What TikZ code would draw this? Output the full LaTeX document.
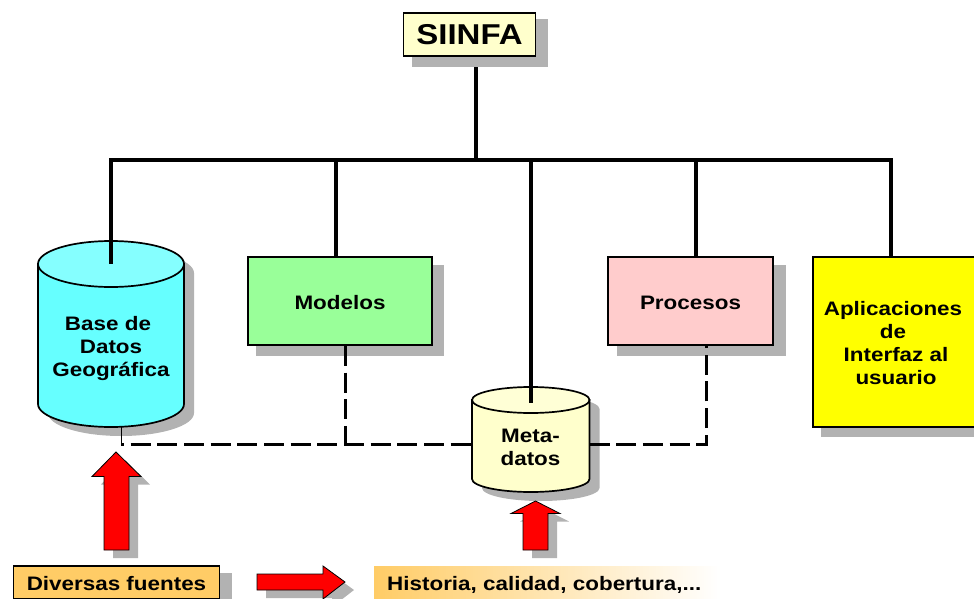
\documentclass[tikz,border=0pt]{standalone}
\usepackage{fontspec}
\setmainfont[FakeStretch=1.15]{Liberation Sans}
\usetikzlibrary{backgrounds}
\definecolor{shadc}{HTML}{B2B2B2}
\definecolor{cream}{HTML}{FFFFCC}
\definecolor{cyanbody}{HTML}{66FFFF}
\definecolor{cyantop}{HTML}{85FFFF}
\definecolor{creamtop}{HTML}{FFFFD6}
\definecolor{greenbox}{HTML}{99FF99}
\definecolor{pinkbox}{HTML}{FFCCCC}
\definecolor{orangebox}{HTML}{FFCC66}
\definecolor{yellowbox}{HTML}{FFFF00}
\definecolor{redarr}{HTML}{FF0000}
\tikzset{
  x=1pt,y=-1pt,
  shadowfill/.style={fill=shadc,draw=none},
  boxnode/.style={draw=black,line width=1.8pt,inner sep=0pt,align=center,font=\fontsize{19.5}{23}\selectfont\bfseries},
  bigline/.style={line width=4pt,black},
  dashline/.style={line width=2.7pt,black,dash pattern=on 20pt off 6.67pt},
  thinline/.style={line width=0.8pt,black},
  cylline/.style={line width=1.7pt,black},
  redarrow/.style={fill=redarr,draw=black,line width=0.8pt},
  cyltext/.style={align=center,font=\fontsize{19.5}{23}\selectfont\bfseries,inner sep=0pt},
}
\begin{document}
\begin{tikzpicture}
\useasboundingbox (0,0) rectangle (974,599);
% box shadows
\fill[shadowfill] (412,19) rectangle (548,67);
\fill[shadowfill] (256,265) rectangle (444,356);
\fill[shadowfill] (617,265) rectangle (786,356);
\fill[shadowfill] (821,265) rectangle (985,437);
\fill[shadowfill] (25,573) rectangle (232,610);
% boxes
\node[boxnode,fill=cream,minimum width=132pt,minimum height=43pt,font=\fontsize{28.7}{32}\selectfont\bfseries] (siinfa) at (469.5,34.5) {SIINFA};
\node[boxnode,fill=greenbox,minimum width=184pt,minimum height=88pt] (modelos) at (340,301) {\raisebox{0pt}[16pt][0pt]{Modelos}};
\node[boxnode,fill=pinkbox,minimum width=165pt,minimum height=88pt] (procesos) at (690.5,301) {\raisebox{0pt}[16pt][0pt]{Procesos}};
\node[boxnode,fill=yellowbox,minimum width=170pt,minimum height=170pt] (aplic) at (898,342) {};
\node[cyltext] (aplictext) at (893,343) {Aplicaciones\\de\\\hspace*{6pt}Interfaz al\\\hspace*{6pt}usuario};
% cylinder 1
\fill[shadowfill] (48,273) arc[x radius=73,y radius=23,start angle=180,end angle=360] -- (194,413) arc[x radius=73,y radius=23,start angle=0,end angle=180] -- cycle;
\draw[cylline,fill=cyanbody] (38,264) -- (38,404) arc[x radius=73,y radius=23,start angle=180,end angle=0] -- (184,264) -- cycle;
\draw[cylline,fill=cyantop] (111,264) ellipse[x radius=73,y radius=23];
\node[cyltext] (bdg) at (111,348) {Base de\hspace*{6pt}\\Datos\\Geográfica};
\coordinate (bdgb) at (121,427);
% cylinder 2
\fill[shadowfill] (482,409) arc[x radius=58.75,y radius=13,start angle=180,end angle=360] -- (599.5,488) arc[x radius=58.75,y radius=13,start angle=0,end angle=180] -- cycle;
\draw[cylline,fill=cream] (472,400) -- (472,479) arc[x radius=58.75,y radius=13,start angle=180,end angle=0] -- (589.5,400) -- cycle;
\draw[cylline,fill=creamtop] (530.75,400) ellipse[x radius=58.75,y radius=13];
\node[cyltext] (meta) at (530.5,447.5) {Meta-\\datos};
\coordinate (metal) at (472,444.5);
\coordinate (metar) at (589.5,444.5);
% tree
\coordinate (busl) at (109,159.5);
\coordinate (busr) at (893,159.5);
\coordinate (j0) at (476,159.5);
\coordinate (j1) at (111,159.5);
\coordinate (j2) at (336,159.5);
\coordinate (j3) at (531,159.5);
\coordinate (j4) at (696,159.5);
\coordinate (j5) at (891,159.5);
\coordinate (c1) at (111,264);
\coordinate (c2) at (531,403);
\coordinate (d0) at (121,444.5);
\coordinate (d1) at (345.5,444.5);
\coordinate (d2) at (706.5,444.5);
\begin{scope}[on background layer]
\draw[bigline] ([xshift=6.5pt]siinfa.south) -- (j0);
\end{scope}
\draw[bigline] (busl) -- (busr);
\draw[bigline] (j1) -- (c1);
\draw[bigline] (j2) -- (j2 |- modelos.north);
\draw[bigline] (j3) -- (c2);
\draw[bigline] (j4) -- (j4 |- procesos.north);
\draw[bigline] (j5) -- (j5 |- aplic.north);
% dashed links
\draw[thinline] (bdgb) -- (d0);
\draw[dashline,dash phase=17pt] (d0) -- (metal);
\draw[dashline] (d1 |- modelos.south) -- (d1);
\draw[dashline] (metar) -- (d2) -- (d2 |- procesos.south);
% red arrows
\fill[shadowfill,xshift=9pt,yshift=-8pt] (116,452) -- (141,476.5) -- (129,476.5) -- (129,550) -- (104,550) -- (104,476.5) -- (92,476.5) -- cycle;
\draw[redarrow] (116,452) -- (141,476.5) -- (129,476.5) -- (129,550) -- (104,550) -- (104,476.5) -- (92,476.5) -- cycle;
\fill[shadowfill,xshift=9pt,yshift=-8pt] (535.5,501) -- (560,513.5) -- (548,513.5) -- (548,550) -- (523,550) -- (523,513.5) -- (511,513.5) -- cycle;
\draw[redarrow] (535.5,501) -- (560,513.5) -- (548,513.5) -- (548,550) -- (523,550) -- (523,513.5) -- (511,513.5) -- cycle;
\fill[shadowfill,xshift=9pt,yshift=-8pt] (345,582) -- (323,566) -- (323,574) -- (257,574) -- (257,590) -- (323,590) -- (323,599) -- cycle;
\draw[redarrow] (345,582) -- (323,566) -- (323,574) -- (257,574) -- (257,590) -- (323,590) -- (323,599) -- cycle;
% bottom labels
\node[boxnode,fill=orangebox,minimum width=206pt,minimum height=33pt,line width=1.2pt] (div) at (116.5,582.5) {\raisebox{0pt}[16pt][0pt]{Diversas fuentes}};
\node[minimum width=346pt,minimum height=33pt,inner sep=0pt,left color=orangebox,right color=white,anchor=west] (histbg) at (374,582.5) {};
\node[anchor=west,inner sep=0pt,font=\fontsize{19.5}{23}\selectfont\bfseries] (hist) at (387,584.5) {Historia, calidad, cobertura,...};
\end{tikzpicture}
\end{document}
